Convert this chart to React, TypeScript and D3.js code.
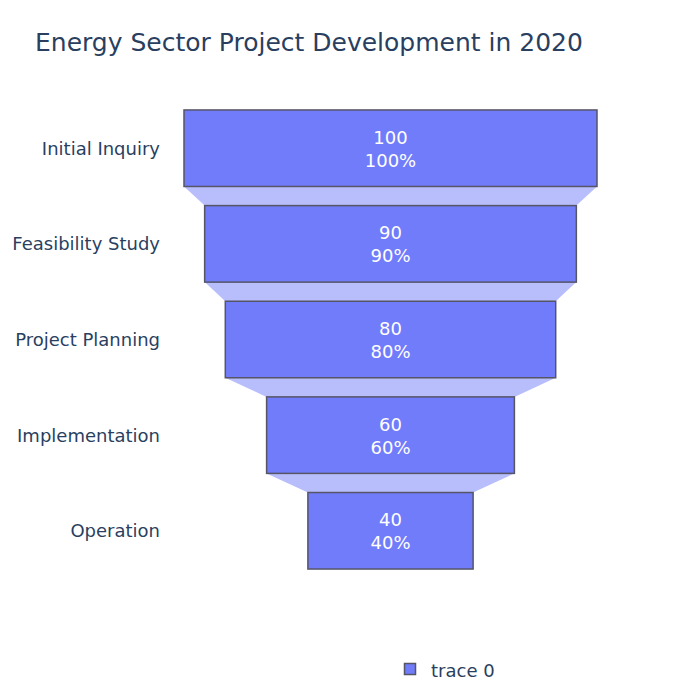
import React, { useEffect, useRef } from 'react';
import * as d3 from 'd3';

// chart data
const stages = ['Initial Inquiry', 'Feasibility Study', 'Project Planning', 'Implementation', 'Operation'];
const counts = [100, 90, 80, 60, 40];

const W = 700, H = 700;
const FONT = '"DejaVu Sans", "Open Sans", sans-serif';
const INK = '#2a3f5f';

export default function App() {
  const ref = useRef<SVGSVGElement | null>(null);

  useEffect(() => {
    const svg = d3.select(ref.current);
    svg.selectAll('*').remove();

    const center = 390.5;
    const x = d3.scaleLinear().domain([0, 100]).range([0, 413]);
    const y = d3.scaleBand<string>().domain(stages).range([100.4, 578.6])
      .paddingInner(0.2).paddingOuter(0.1);

    svg.append('rect').attr('width', W).attr('height', H).attr('fill', '#fff');

    // title
    svg.append('text')
      .attr('x', 35).attr('y', 51)
      .attr('font-family', FONT).attr('font-size', 25)
      .attr('fill', INK)
      .text('Energy Sector Project Development in 2020');

    const data = stages.map((s, i) => ({ stage: s, val: counts[i], pct: Math.round(counts[i] / counts[0] * 100) }));

    // connectors between bars
    const g = svg.append('g');
    for (let i = 0; i < data.length - 1; i++) {
      const a = data[i], b = data[i + 1];
      const y0 = y(a.stage)! + y.bandwidth();
      const y1 = y(b.stage)!;
      const wa = x(a.val) / 2, wb = x(b.val) / 2;
      g.append('path')
        .attr('d', `M${center - wa},${y0}L${center + wa},${y0}L${center + wb},${y1}L${center - wb},${y1}Z`)
        .attr('fill', '#b8befb');
    }

    // bars
    g.selectAll('rect.bar').data(data).join('rect')
      .attr('class', 'bar')
      .attr('x', d => center - x(d.val) / 2)
      .attr('y', d => y(d.stage)!)
      .attr('width', d => x(d.val))
      .attr('height', y.bandwidth())
      .attr('fill', '#717cfb')
      .attr('stroke', '#555566')
      .attr('stroke-width', 1.5);

    // labels inside
    const lbl = g.selectAll('text.val').data(data).join('text')
      .attr('class', 'val')
      .attr('text-anchor', 'middle')
      .attr('font-family', FONT).attr('font-size', 18)
      .attr('fill', '#fff');
    lbl.append('tspan')
      .attr('x', center)
      .attr('y', d => y(d.stage)! + y.bandwidth() / 2 - 4.5)
      .text(d => String(d.val));
    lbl.append('tspan')
      .attr('x', center)
      .attr('y', d => y(d.stage)! + y.bandwidth() / 2 + 18.5)
      .text(d => d.pct + '%');

    // category axis labels
    svg.selectAll('text.cat').data(data).join('text')
      .attr('class', 'cat')
      .attr('x', 160)
      .attr('y', d => y(d.stage)! + y.bandwidth() / 2 + 6.5)
      .attr('text-anchor', 'end')
      .attr('font-family', FONT).attr('font-size', 18)
      .attr('fill', INK)
      .text(d => d.stage);

    // legend
    svg.append('rect')
      .attr('x', 404.5).attr('y', 663.5).attr('width', 11).attr('height', 11)
      .attr('fill', '#717cfb').attr('stroke', '#555566').attr('stroke-width', 1.5);
    svg.append('text')
      .attr('x', 431).attr('y', 676.5)
      .attr('font-family', FONT).attr('font-size', 18)
      .attr('fill', INK)
      .text('trace 0');
  }, []);

  return <svg ref={ref} width={W} height={H} style={{ position: 'absolute', left: 0, top: 0 }} />;
}
